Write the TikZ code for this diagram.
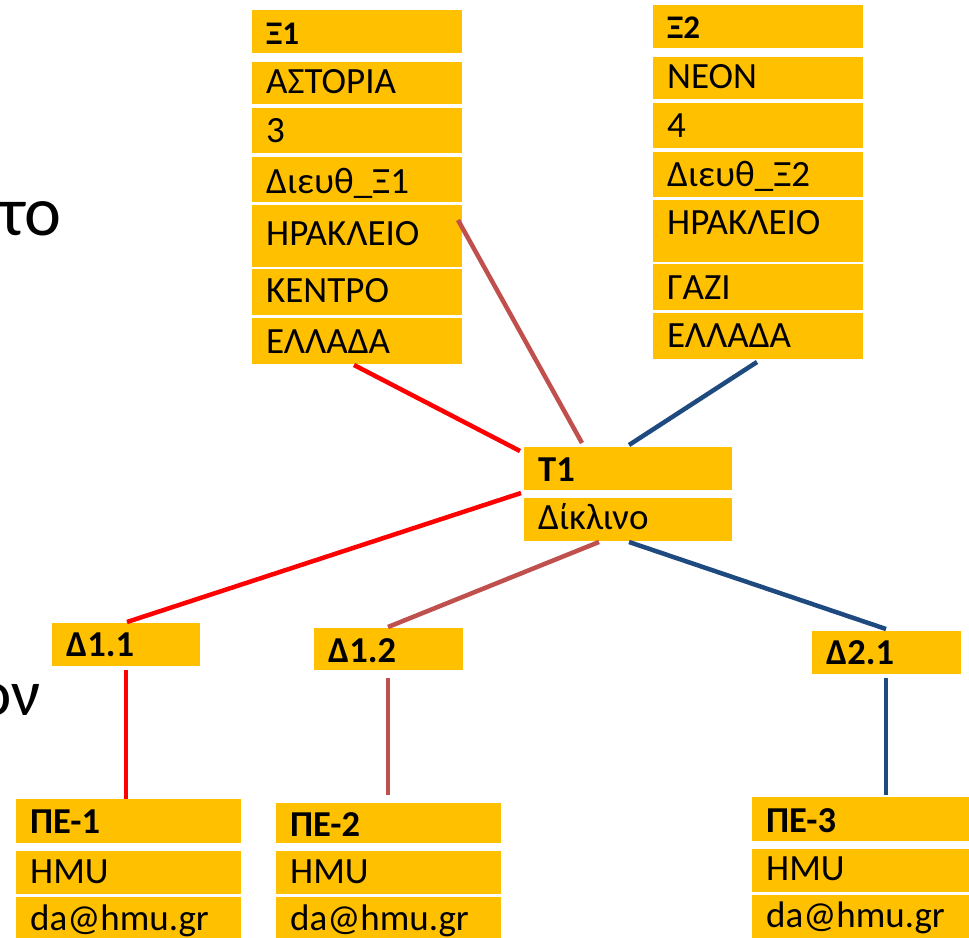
\documentclass[tikz,border=0pt]{standalone}
\usepackage{fontspec}
\setmainfont{Carlito}
\usetikzlibrary{calc}
\definecolor{gold}{HTML}{FFC000}
\definecolor{lred}{HTML}{FF0000}
\definecolor{lbrown}{HTML}{C0504D}
\definecolor{lblue}{HTML}{1F4A80}
\tikzset{
  cell/.style={fill=gold, draw=none, inner sep=0pt, outer sep=0pt},
  txt/.style={inner sep=0pt, font=\fontsize{37}{42}\selectfont},
  txtb/.style={inner sep=0pt, font=\fontsize{37}{42}\selectfont},
  hdsmall/.style={inner sep=0pt, font=\fontsize{33}{38}\selectfont\bfseries},
  hd/.style={inner sep=0pt, font=\fontsize{36.5}{42}\selectfont\bfseries},
  big/.style={inner sep=0pt, font=\fontsize{70}{80}\selectfont},
  link/.style={line width=4.5pt},
}
% name, text style, x1, y1, x2, y2, baseline, text
\newcommand\cellbox[8]{%
  \node[cell, minimum width={#5-#3}, minimum height={#6-#4}, anchor=north west] (#1) at (#3,#4) {};
  \node[#2, anchor=base west] (#1t) at (#3+14,#7) {#8};}
\begin{document}
\begin{tikzpicture}[x=1pt, y=-1pt]
\useasboundingbox (0,0) rectangle (969,937);
\clip (0,0) rectangle (969,937);

% partial text at the left edge
\node[big, anchor=base east] (lefta) at (62,235) {το};
\node[big, anchor=base east, font=\fontsize{65}{75}\selectfont] (leftb) at (41,715) {ον};

% Xi1 column
\cellbox{xa1}{hdsmall}{252}{10}{462}{53}{44}{Ξ1}
\cellbox{xa2}{txt}{252}{62}{462}{104}{93}{ΑΣΤΟΡΙΑ}
\cellbox{xa3}{txt}{252}{108}{462}{153}{142}{3}
\cellbox{xa4}{txt}{252}{157}{462}{202}{193}{Διευθ\_Ξ1}
\cellbox{xa5}{txt}{252}{205}{462}{267}{245}{ΗΡΑΚΛΕΙΟ}
\cellbox{xa6}{txt}{252}{269}{462}{315}{302}{ΚΕΝΤΡΟ}
\cellbox{xa7}{txt}{252}{318}{462}{364}{353}{ΕΛΛΑΔΑ}

% Xi2 column
\cellbox{xb1}{hdsmall}{653}{5}{863}{48}{38}{Ξ2}
\cellbox{xb2}{txt}{653}{57}{863}{99}{88}{ΝΕΟΝ}
\cellbox{xb3}{txt}{653}{103}{863}{148}{137}{4}
\cellbox{xb4}{txt}{653}{152}{863}{197}{186}{Διευθ\_Ξ2}
\cellbox{xb5}{txt}{653}{200}{863}{262}{234}{ΗΡΑΚΛΕΙΟ}
\cellbox{xb6}{txt}{653}{264}{863}{310}{299}{ΓΑΖΙ}
\cellbox{xb7}{txt}{653}{313}{863}{359}{347}{ΕΛΛΑΔΑ}

% T1
\cellbox{ta}{hd}{524}{447}{732}{490}{481}{T1}
\cellbox{tb}{txt}{524}{498}{732}{541}{529}{Δίκλινο}

% Delta boxes
\cellbox{da}{hd}{52}{623}{200}{666}{656}{Δ1.1}
\cellbox{db}{hd}{314}{628}{463}{670}{662}{Δ1.2}
\cellbox{dc}{hd}{812}{631}{961}{674}{664}{Δ2.1}

% PE boxes
\cellbox{pa1}{hd}{16}{799}{241}{843}{833}{ΠΕ-1}
\cellbox{pa2}{txtb}{16}{851}{241}{894}{883}{HMU}
\cellbox{pa3}{txtb}{16}{897}{241}{945}{930}{da@hmu.gr}
\cellbox{pb1}{hd}{276}{803}{501}{843}{836}{ΠΕ-2}
\cellbox{pb2}{txtb}{276}{851}{501}{894}{883}{HMU}
\cellbox{pb3}{txtb}{276}{897}{501}{945}{930}{da@hmu.gr}
\cellbox{pc1}{hd}{752}{797}{975}{841}{832}{ΠΕ-3}
\cellbox{pc2}{txtb}{752}{849}{975}{892}{880}{HMU}
\cellbox{pc3}{txtb}{752}{895}{975}{945}{927}{da@hmu.gr}

% connectors
\draw[link, lred]   ([shift={(102,1)}]xa7.south west) -- ([shift={(-4,4)}]ta.north west);
\draw[link, lbrown] ([shift={(-4,15)}]xa5.north east) -- ([shift={(58,-4)}]ta.north west);
\draw[link, lblue]  ([shift={(104,3)}]xb7.south west) -- ([shift={(105,-2)}]ta.north west);
\draw[link, lred]   ([shift={(-3,3)}]ta.south west) -- ([shift={(75,-1)}]da.north west);
\draw[link, lbrown] ([shift={(75,1)}]tb.south west) -- ([shift={(74,-1)}]db.north west);
\draw[link, lblue]  ([shift={(105,1)}]tb.south west) -- ([shift={(74,-2)}]dc.north west);
\draw[link, lred]   ([shift={(74,4)}]da.south west) -- ([shift={(110,0)}]pa1.north west);
\draw[link, lbrown] ([shift={(74,8)}]db.south west) -- ([shift={(112,-8)}]pb1.north west);
\draw[link, lblue]  ([shift={(74,4)}]dc.south west) -- ([shift={(134,-2)}]pc1.north west);
\end{tikzpicture}
\end{document}
